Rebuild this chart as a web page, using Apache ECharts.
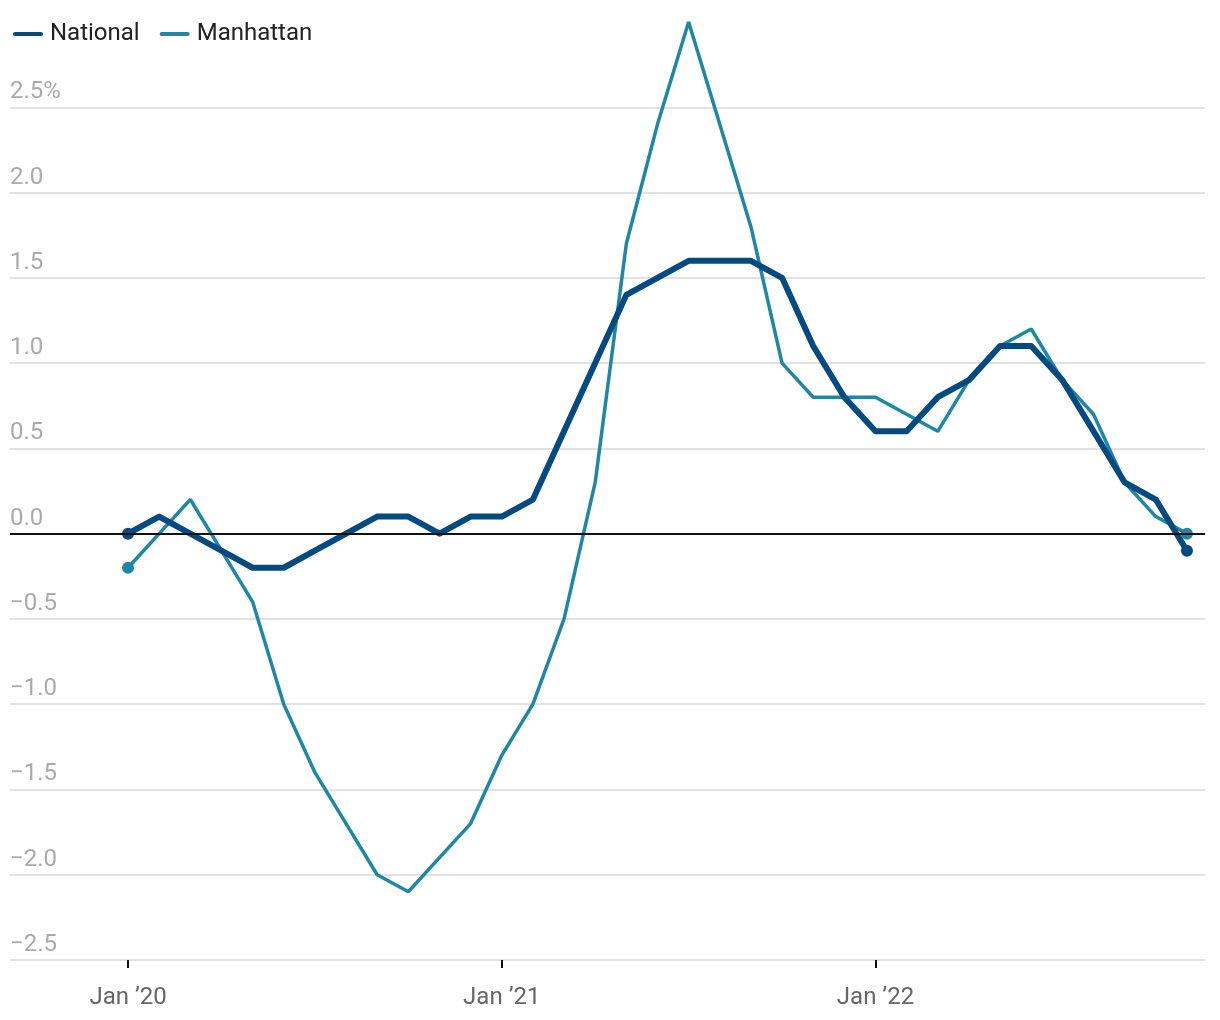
<!DOCTYPE html>
<html>
<head>
<meta charset="utf-8">
<script src="https://cdn.jsdelivr.net/npm/echarts@6/dist/echarts.min.js"></script>
<style>
  html, body { margin: 0; padding: 0; background: #fff; }
  #chart { width: 1220px; height: 1020px; }
</style>
</head>
<body>
<div id="chart"></div>
<script>
// month index 0 = Jan 2020 ... 34 = Nov 2022
const months = [];
for (let i = 0; i <= 34; i++) months.push(i);

const national = [0.0, 0.1, 0.0, -0.1, -0.2, -0.2, -0.1, 0.0, 0.1, 0.1, 0.0, 0.1, 0.1,
  0.2, 0.6, 1.0, 1.4, 1.5, 1.6, 1.6, 1.6, 1.5, 1.1, 0.8, 0.6, 0.6, 0.8, 0.9, 1.1, 1.1,
  0.9, 0.6, 0.3, 0.2, -0.1];
const manhattan = [-0.2, 0.0, 0.2, -0.1, -0.4, -1.0, -1.4, -1.7, -2.0, -2.1, -1.9, -1.7,
  -1.3, -1.0, -0.5, 0.3, 1.7, 2.4, 3.0, 2.4, 1.8, 1.0, 0.8, 0.8, 0.8, 0.7, 0.6, 0.9, 1.1,
  1.2, 0.9, 0.7, 0.3, 0.1, 0.0];

const xTicks = [0, 12, 24];
const xTickLabels = ['Jan \u201920', 'Jan \u201921', 'Jan \u201922'];

const natColor = '#034a80';
const manColor = '#1f87a6';

function pairs(vals) {
  return vals.map((v, i) => [months[i], v]);
}
// dots only on first and last point
function endDots(size) {
  return function (val, params) {
    return (params.dataIndex === 0 || params.dataIndex === months.length - 1) ? size : 0;
  };
}

const chart = echarts.init(document.getElementById('chart'));
chart.setOption({
  animation: false,
  textStyle: { fontFamily: 'Roboto' },
  legend: {
    left: 8, top: 17,
    data: ['National', 'Manhattan'],
    icon: 'path://M2,0 L28,0 A2,2 0 0 1 28,4 L2,4 A2,2 0 0 1 2,0 Z',
    itemWidth: 30, itemHeight: 5, itemGap: 20,
    textStyle: { fontSize: 24, color: '#222', padding: [0, 0, 0, 2] }
  },
  grid: { left: 10, right: 15, top: 22, bottom: 60 },
  xAxis: {
    type: 'value',
    min: -3.79, max: 34.58,
    splitLine: { show: false },
    axisLine: { show: false, onZero: false },
    axisTick: { show: true, customValues: xTicks, length: 8, lineStyle: { color: '#111', width: 2 } },
    axisLabel: {
      customValues: xTicks,
      formatter: v => xTickLabels[xTicks.indexOf(Math.round(v))] || '',
      fontSize: 24, color: '#666', margin: 26
    }
  },
  yAxis: {
    type: 'value',
    min: -2.5, max: 3.0, interval: 0.5,
    axisLine: { show: false },
    axisTick: { show: false },
    splitLine: { showMaxLine: false, lineStyle: { color: '#e2e2e2', width: 2 } },
    axisLabel: {
      inside: true, margin: 0,
      verticalAlign: 'bottom', align: 'left',
      padding: [0, 0, 3, 0],
      fontSize: 24, color: '#aaa',
      formatter: v => {
        if (Math.abs(v - 3) < 1e-6) return '';
        let s = Math.abs(v).toFixed(1);
        if (v < -1e-6) s = '\u2212' + s;
        if (Math.abs(v - 2.5) < 1e-6) s += '%';
        return s;
      }
    }
  },
  series: [
    {
      name: 'Manhattan', type: 'line',
      data: pairs(manhattan),
      symbol: 'circle', showAllSymbol: true, symbolSize: endDots(12),
      lineStyle: { color: manColor, width: 3.5 },
      itemStyle: { color: manColor },
      color: manColor,
      z: 2,
      markLine: {
        silent: true, symbol: 'none', label: { show: false },
        lineStyle: { color: '#111', width: 2, type: 'solid' },
        data: [{ yAxis: 0 }]
      }
    },
    {
      name: 'National', type: 'line',
      data: pairs(national),
      symbol: 'circle', showAllSymbol: true, symbolSize: endDots(12),
      lineStyle: { color: natColor, width: 6, join: 'round' },
      itemStyle: { color: natColor },
      color: natColor,
      z: 3
    }
  ]
});
</script>
</body>
</html>
